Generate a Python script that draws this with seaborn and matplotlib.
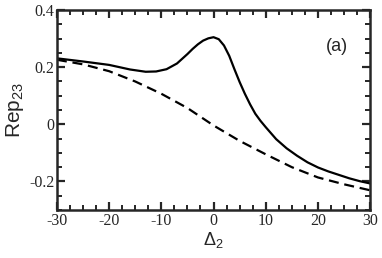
import numpy as np
import pandas as pd
import matplotlib
matplotlib.use("Agg")
import matplotlib.pyplot as plt
from matplotlib.ticker import MultipleLocator
import seaborn as sns

# values
delta_solid = [-30, -25, -20, -16, -13, -11, -9, -7, -5, -4, -3, -2, -1, 0, 1, 2, 3, 4, 5,
               6, 7, 8, 9, 10, 12, 14, 16, 18, 20, 22, 24, 26, 28, 30]
rep_solid = [0.231, 0.220, 0.208, 0.192, 0.184, 0.185, 0.193, 0.213, 0.246, 0.264, 0.280,
             0.293, 0.301, 0.305, 0.298, 0.276, 0.240, 0.193, 0.148, 0.107, 0.070, 0.037,
             0.012, -0.010, -0.052, -0.084, -0.110, -0.133, -0.151, -0.165, -0.177,
             -0.189, -0.199, -0.207]
delta_dashed = [-30, -25, -20, -15, -10, -5, 0, 5, 10, 15, 20, 25, 30]
rep_dashed = [0.226, 0.210, 0.186, 0.150, 0.107, 0.057, -0.004, -0.058, -0.105, -0.150,
              -0.186, -0.210, -0.231]

sns.set_style("ticks")
plt.rcParams.update({
    "xtick.direction": "in",
    "ytick.direction": "in",
    "xtick.top": True,
    "ytick.right": True,
    "axes.linewidth": 1.8,
    "mathtext.fontset": "custom",
    "mathtext.rm": "Liberation Sans",
    "mathtext.it": "Liberation Sans:italic",
})

df_solid = pd.DataFrame({"delta": delta_solid, "rep": rep_solid})
df_dashed = pd.DataFrame({"delta": delta_dashed, "rep": rep_dashed})

fig = plt.figure(figsize=(3.82, 2.58), dpi=100)
ax = fig.add_axes([0.149, 0.186, 0.820, 0.775])

sns.lineplot(data=df_dashed, x="delta", y="rep", ax=ax, color="black",
             linewidth=1.6, linestyle=(0, (4.5, 2.6)))
sns.lineplot(data=df_solid, x="delta", y="rep", ax=ax, color="black", linewidth=1.6)

ax.set_xlim(-30, 30)
ax.set_ylim(-0.3, 0.4)
ax.xaxis.set_major_locator(MultipleLocator(10))
ax.xaxis.set_minor_locator(MultipleLocator(2.5))
ax.yaxis.set_major_locator(MultipleLocator(0.2))
ax.yaxis.set_minor_locator(MultipleLocator(0.05))
ax.tick_params(which="major", length=6, width=1.6, top=True, right=True, pad=2)
ax.tick_params(which="minor", length=3.5, width=1.4, top=True, right=True)
ax.set_yticks([0.4, 0.2, 0, -0.2])
ax.set_yticklabels(["0.4", "0.2", "0", "-0.2"])
ax.set_xticks([-30, -20, -10, 0, 10, 20, 30])
ax.set_xticklabels(["-30", "-20", "-10", "0", "10", "20", "30"])
for lbl in ax.get_xticklabels() + ax.get_yticklabels():
    lbl.set_fontfamily("Liberation Serif")
    lbl.set_fontsize(11.5)

ax.set_xlabel(r"$\mathrm{\Delta}_2$", fontsize=13, labelpad=1)
ax.set_ylabel(r"Rep$_{23}$", fontsize=15, labelpad=2, fontfamily="Liberation Sans")
ax.text(0.895, 0.82, "(a)", transform=ax.transAxes, ha="center", va="center",
        fontsize=13, fontfamily="Liberation Sans")

fig.savefig("out.png", dpi=100)
plt.close()
